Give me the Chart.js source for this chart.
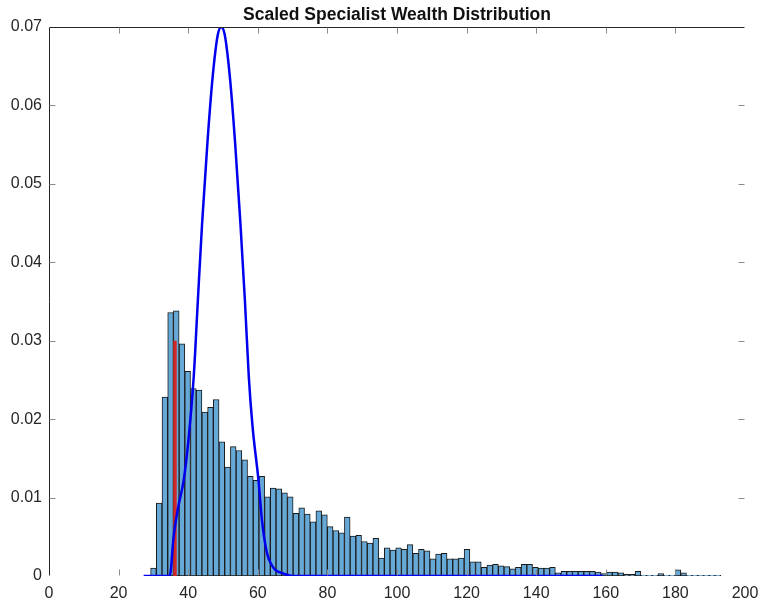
<!doctype html>
<html lang="en">
<head>
<meta charset="utf-8">
<title>Scaled Specialist Wealth Distribution</title>
<script src="https://cdn.jsdelivr.net/npm/chart.js"></script>
<style>
body { margin: 0; background: #fff; }
</style>
</head>
<body>
<canvas id="myChart" width="759" height="603"></canvas>
<script>
const chartTitle = 'Scaled Specialist Wealth Distribution';

// histogram: 100 equal bins starting at binStart
const binStart = 29.2;
const binWidth = 1.638;
const binValues = [
	0.0010, 0.0093, 0.0228, 0.0336, 0.0338, 0.0296, 0.0261, 0.0239, 0.0237, 0.0209,
	0.0215, 0.0225, 0.0171, 0.0139, 0.0165, 0.0160, 0.0148, 0.0127, 0.0122, 0.0127,
	0.0101, 0.0112, 0.0111, 0.0106, 0.0101, 0.0080, 0.0087, 0.0079, 0.0069, 0.0083,
	0.0078, 0.0063, 0.0058, 0.0055, 0.0075, 0.0051, 0.0052, 0.0044, 0.0042, 0.0048,
	0.0023, 0.0036, 0.0033, 0.0036, 0.0034, 0.0040, 0.0029, 0.0034, 0.0032, 0.0022,
	0.0028, 0.0029, 0.0022, 0.0022, 0.0023, 0.0034, 0.0018, 0.0018, 0.0011, 0.0014,
	0.0015, 0.0013, 0.0012, 0.0009, 0.0011, 0.0015, 0.0015, 0.0011, 0.0010, 0.0010,
	0.0011, 0.0004, 0.0006, 0.0006, 0.0006, 0.0006, 0.0006, 0.0006, 0.0005, 0.0003,
	0.0005, 0.0005, 0.0004, 0.0002, 0.0002, 0.0006, 0.0001, 0.0001, 0.0001, 0.0003,
	0.0001, 0.0001, 0.0008, 0.0004, 0.0001, 0.0001, 0.0001, 0.0001, 0.0001, 0.0001
];

// red marker line
const markerX = 36.2;
const markerY = 0.03;

// blue density curve
const curveX = [27.2, 34.7, 35.8, 37.0, 38.7, 40.0, 41.6, 42.7, 44.0, 45.5, 47.0, 48.5, 49.5,
	50.5, 52.0, 53.5, 55.0, 56.3, 57.4, 58.5, 60.2, 61.2, 62.6, 64.0, 65.0, 67.4, 70.0, 159.2];
const curveY = [0, 0, 0.0050, 0.0085, 0.0122, 0.0170, 0.0255, 0.0345, 0.0450, 0.0551, 0.0635, 0.0690, 0.0700,
	0.0690, 0.0635, 0.0551, 0.0450, 0.0351, 0.0255, 0.0190, 0.0122, 0.0071, 0.0030, 0.0014, 0.0008, 0.0003, 0, 0];

const xTicks = [0, 20, 40, 60, 80, 100, 120, 140, 160, 180, 200];
const yTicks = [0, 0.01, 0.02, 0.03, 0.04, 0.05, 0.06, 0.07];

const fontFamily = '"Liberation Sans", Arial, Helvetica, sans-serif';

// bars are placed at bin centres
let bars = [];
for (let i = 0; i < binValues.length; i++) {
	bars.push({ x: binStart + binWidth * (i + 0.5), y: binValues[i] });
}
let curve = [];
for (let i = 0; i < curveX.length; i++) {
	curve.push({ x: curveX[i], y: curveY[i] });
}

// axis box (left + top) with inward ticks, and the title
const framePlugin = {
	id: 'frame',
	afterDraw(chart) {
		const ctx = chart.ctx;
		const a = chart.chartArea;
		const xs = chart.scales.x, ys = chart.scales.y;
		const L = Math.round(a.left) + 0.5, T = Math.round(a.top) + 0.5;
		const R = Math.round(a.right) - 0.5, B = Math.round(a.bottom) - 0.5;
		ctx.save();
		ctx.lineWidth = 1;
		ctx.strokeStyle = '#262626';
		ctx.beginPath();
		ctx.moveTo(L, B);
		ctx.lineTo(L, T);
		ctx.lineTo(R, T);
		ctx.stroke();

		ctx.strokeStyle = '#8a8a8a';
		ctx.beginPath();
		yTicks.forEach(function(v) {
			if (v <= 0 || v >= 0.07) return;
			const y = Math.round(ys.getPixelForValue(v)) + 0.5;
			ctx.moveTo(L, y); ctx.lineTo(L + 6, y);
			ctx.moveTo(R, y); ctx.lineTo(R - 6, y);
		});
		xTicks.forEach(function(v) {
			if (v <= 0 || v >= 200) return;
			const x = Math.round(xs.getPixelForValue(v)) + 0.5;
			ctx.moveTo(x, B); ctx.lineTo(x, B - 6);
			ctx.moveTo(x, T); ctx.lineTo(x, T + 6);
		});
		ctx.stroke();

		ctx.fillStyle = '#111';
		ctx.font = 'bold 17.5px ' + fontFamily;
		ctx.textAlign = 'center';
		ctx.textBaseline = 'alphabetic';
		ctx.fillText(chartTitle, (a.left + a.right) / 2, 20);
		ctx.restore();
	}
};

const config = {
	type: 'bar',
	data: {
		datasets: [{
			type: 'line',
			data: curve,
			borderColor: '#0000ee',
			borderWidth: 2.5,
			pointRadius: 0,
			cubicInterpolationMode: 'monotone',
			fill: false,
			order: 1
		}, {
			type: 'line',
			data: [{ x: markerX, y: 0 }, { x: markerX, y: markerY }],
			borderColor: '#d02828',
			borderWidth: 3.5,
			pointRadius: 0,
			fill: false,
			order: 2
		}, {
			type: 'bar',
			data: bars,
			backgroundColor: '#66a8d6',
			borderColor: '#1a1a1a',
			borderWidth: 1,
			borderSkipped: false,
			barPercentage: 1.0,
			categoryPercentage: 1.0,
			order: 3
		}]
	},
	options: {
		responsive: false,
		animation: false,
		layout: { padding: { top: 27, right: 14, left: 0, bottom: 0 } },
		plugins: {
			legend: { display: false },
			tooltip: { enabled: false },
			title: { display: false }
		},
		scales: {
			x: {
				type: 'linear',
				min: 0,
				max: 200,
				offset: false,
				grid: { display: false, drawTicks: false },
				border: { display: false },
				afterBuildTicks: function(s) { s.ticks = xTicks.map(v => ({ value: v })); },
				afterFit: function(s) { s.height = 27; s.paddingRight = 0; },
				ticks: {
					padding: 8,
					maxRotation: 0,
					color: '#262626',
					font: { family: fontFamily, size: 16 },
					callback: v => String(v)
				}
			},
			y: {
				min: 0,
				max: 0.07,
				grid: { display: false, drawTicks: false },
				border: { display: false },
				afterBuildTicks: function(s) { s.ticks = yTicks.map(v => ({ value: v })); },
				afterFit: function(s) { s.width = 49; },
				ticks: {
					padding: 7,
					color: '#262626',
					font: { family: fontFamily, size: 16 },
					callback: v => v === 0 ? '0' : v.toFixed(2)
				}
			}
		}
	},
	plugins: [framePlugin]
};

let myChart = new Chart(document.getElementById('myChart'), config);
</script>
</body>
</html>
